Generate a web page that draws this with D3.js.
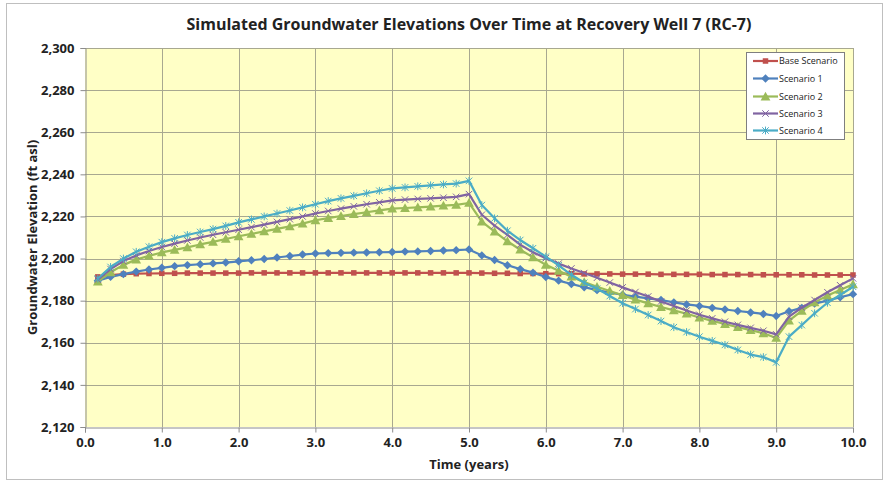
<!DOCTYPE html>
<html><head><meta charset="utf-8">
<script src="https://cdn.jsdelivr.net/npm/d3@7"></script>
<style>
body{margin:0;background:#fff;}
svg text{font-family:"Liberation Sans Narrow","Open Sans",Arial,sans-serif;}
</style></head>
<body><svg id="c" width="890" height="483"></svg>
<script>
const seriesNames = ["Base Scenario","Scenario 1","Scenario 2","Scenario 3","Scenario 4"];
const seriesColors = ["#C0504D","#4F81BD","#9BBB59","#8064A2","#4BACC6"];
const markerTypes = ["square","diamond","triangle","x","star"];
// time steps (years), every 2 months
const timeYears = [0.167,0.333,0.5,0.667,0.833,1.0,1.167,1.333,1.5,1.667,1.833,2.0,2.167,2.333,2.5,2.667,2.833,3.0,3.167,3.333,3.5,3.667,3.833,4.0,4.167,4.333,4.5,4.667,4.833,5.0,5.167,5.333,5.5,5.667,5.833,6.0,6.167,6.333,6.5,6.667,6.833,7.0,7.167,7.333,7.5,7.667,7.833,8.0,8.167,8.333,8.5,8.667,8.833,9.0,9.167,9.333,9.5,9.667,9.833,10.0];
const baseScenario = [2191.3,2192.2,2192.6,2192.8,2192.9,2193.0,2193.0,2193.1,2193.1,2193.1,
 2193.1,2193.1,2193.2,2193.2,2193.2,2193.2,2193.2,2193.2,2193.2,2193.2,
 2193.2,2193.2,2193.2,2193.2,2193.2,2193.2,2193.2,2193.2,2193.2,2193.2,
 2193.1,2193.0,2193.0,2192.9,2192.9,2192.8,2192.8,2192.8,2192.7,2192.7,
 2192.7,2192.6,2192.6,2192.6,2192.5,2192.5,2192.5,2192.5,2192.4,2192.4,
 2192.4,2192.4,2192.3,2192.3,2192.3,2192.3,2192.2,2192.2,2192.2,2192.2];
const scenario1 = [2189.5,2191.3,2192.6,2193.8,2194.8,2195.6,2196.4,2196.9,2197.3,2197.7,
 2198.1,2198.7,2199.2,2199.8,2200.5,2201.2,2201.9,2202.4,2202.6,2202.7,
 2202.8,2202.9,2203.0,2203.1,2203.3,2203.4,2203.6,2203.8,2204.0,2204.3,
 2201.5,2199.3,2196.8,2195.0,2193.3,2191.2,2189.5,2187.9,2186.4,2185.0,
 2183.8,2182.8,2181.9,2181.1,2180.3,2179.2,2178.2,2177.5,2176.6,2175.8,
 2175.1,2174.4,2173.7,2172.7,2175.0,2176.6,2178.6,2180.0,2181.6,2183.1];
const scenario2 = [2189.0,2193.5,2197.0,2199.5,2201.3,2202.9,2204.1,2205.3,2206.7,2207.9,
 2209.3,2210.6,2211.7,2212.9,2214.1,2215.3,2216.6,2218.2,2219.2,2220.2,
 2221.1,2222.0,2222.9,2223.7,2224.0,2224.3,2224.7,2225.1,2225.5,2226.4,
 2217.5,2212.8,2208.2,2204.2,2200.6,2197.0,2194.2,2191.4,2188.8,2186.6,
 2184.6,2182.6,2180.5,2178.7,2177.0,2175.4,2173.8,2172.0,2170.4,2168.9,
 2167.4,2166.0,2164.5,2162.3,2170.5,2175.2,2179.2,2182.4,2185.1,2187.8];
const scenario3 = [2190.0,2195.0,2198.8,2201.5,2203.6,2205.5,2207.1,2208.6,2210.0,2211.3,
 2212.5,2213.7,2214.9,2216.1,2217.4,2218.7,2220.0,2221.4,2222.6,2223.7,
 2224.8,2225.8,2226.7,2227.6,2228.0,2228.3,2228.6,2228.9,2229.3,2230.6,
 2220.8,2215.6,2211.2,2206.6,2203.0,2200.2,2197.6,2195.3,2193.1,2190.9,
 2188.6,2186.3,2184.1,2182.0,2179.6,2177.5,2175.3,2173.3,2171.6,2170.0,
 2168.5,2167.1,2165.7,2164.0,2172.4,2176.7,2180.3,2184.0,2187.3,2190.6];
const scenario4 = [2190.5,2196.0,2200.0,2203.2,2205.6,2207.8,2209.6,2211.2,2212.6,2214.0,
 2215.5,2217.2,2218.6,2220.0,2221.4,2222.8,2224.3,2225.8,2227.3,2228.6,
 2229.8,2231.0,2232.2,2233.3,2233.8,2234.3,2234.8,2235.2,2235.6,2236.9,
 2225.4,2219.1,2213.2,2208.8,2204.9,2200.9,2196.8,2192.3,2188.5,2185.7,
 2182.2,2178.8,2176.0,2173.2,2170.3,2167.4,2165.1,2162.9,2160.9,2159.0,
 2156.6,2154.4,2153.2,2150.7,2162.9,2168.4,2174.0,2179.0,2182.7,2186.6];
const allSeries = [baseScenario,scenario1,scenario2,scenario3,scenario4];
const xTicks = [0,1,2,3,4,5,6,7,8,9,10];
const yTicks = [2120,2140,2160,2180,2200,2220,2240,2260,2280,2300];
const titleText = "Simulated Groundwater Elevations Over Time at Recovery Well 7 (RC-7)";
const xTitle = "Time (years)";
const yTitle = "Groundwater Elevation (ft asl)";

const svg = d3.select("#c");
const L=85,R=853,T=48,B=427;
const x = d3.scaleLinear().domain([0,10]).range([L,R]);
const y = d3.scaleLinear().domain([2120,2300]).range([B,T]);

// outer border
svg.append("rect").attr("x",6.5).attr("y",3.5).attr("width",876).attr("height",476)
  .attr("fill","#fff").attr("stroke","#bfbfbf").attr("stroke-width",1);

// plot background
svg.append("rect").attr("x",L).attr("y",T).attr("width",R-L).attr("height",B-T).attr("fill","#FFFFC6");

// grid
const gridColor="#a8a890";
svg.append("g").selectAll("line").data(yTicks.slice(1)).join("line")
  .attr("x1",L).attr("x2",R).attr("y1",d=>Math.round(y(d))+0.5).attr("y2",d=>Math.round(y(d))+0.5)
  .attr("stroke",gridColor).attr("stroke-width",1);
svg.append("g").selectAll("line").data(xTicks.slice(1)).join("line")
  .attr("y1",T).attr("y2",B).attr("x1",d=>Math.round(x(d))+0.5).attr("x2",d=>Math.round(x(d))+0.5)
  .attr("stroke",gridColor).attr("stroke-width",1);

// axes
const yAxis = d3.axisLeft(y).tickValues(yTicks).tickFormat(d3.format(",")).tickSize(5).tickPadding(6);
const gy = svg.append("g").attr("transform",`translate(${L+0.5},0)`).call(yAxis);
const xAxis = d3.axisBottom(x).tickValues(xTicks).tickFormat(d3.format(".1f")).tickSize(5).tickPadding(5);
const gx = svg.append("g").attr("transform",`translate(0,${B+0.5})`).call(xAxis);
[gy,gx].forEach(g=>{
  g.selectAll("path,line").attr("stroke","#8c8c8c");
  g.selectAll("text").attr("font-size",13).attr("font-weight","bold").attr("fill","#222");
});

// lines
const line = d3.line().x((d,i)=>x(timeYears[i])).y(d=>y(d));
function drawMarker(g,type,cx,cy,color,s){
  if(type==="square"){
    g.append("rect").attr("x",cx-s/2).attr("y",cy-s/2).attr("width",s).attr("height",s).attr("fill",color);
  } else if(type==="diamond"){
    const h=s*0.7;
    g.append("path").attr("d",`M${cx},${cy-h}L${cx+h},${cy}L${cx},${cy+h}L${cx-h},${cy}Z`).attr("fill",color);
  } else if(type==="triangle"){
    const h=s*0.75;
    g.append("path").attr("d",`M${cx},${cy-h}L${cx+h},${cy+h*0.8}L${cx-h},${cy+h*0.8}Z`).attr("fill",color);
  } else if(type==="x"){
    const h=s*0.5;
    g.append("path").attr("d",`M${cx-h},${cy-h}L${cx+h},${cy+h}M${cx-h},${cy+h}L${cx+h},${cy-h}`).attr("stroke",color).attr("stroke-width",1);
  } else {
    const h=s*0.5;
    g.append("path").attr("d",`M${cx-h},${cy-h}L${cx+h},${cy+h}M${cx-h},${cy+h}L${cx+h},${cy-h}M${cx},${cy-h*1.2}L${cx},${cy+h*1.2}`).attr("stroke",color).attr("stroke-width",1);
  }
}
const markerSize=[5.5,6,6.5,6.5,6.5];
allSeries.forEach((vals,si)=>{
  const g=svg.append("g");
  g.append("path").datum(vals).attr("d",line).attr("fill","none")
    .attr("stroke",seriesColors[si]).attr("stroke-width",2.2).attr("stroke-linejoin","round");
  vals.forEach((v,i)=>drawMarker(g,markerTypes[si],x(timeYears[i]),y(v),seriesColors[si],markerSize[si]));
});

// titles
svg.append("text").attr("x",469).attr("y",30).attr("text-anchor","middle")
  .attr("font-size",16).attr("font-weight","bold").attr("fill","#222").text(titleText);
svg.append("text").attr("x",469).attr("y",469).attr("text-anchor","middle")
  .attr("font-size",13).attr("font-weight","bold").attr("fill","#222").text(xTitle);
svg.append("text").attr("transform",`translate(37,${(T+B)/2}) rotate(-90)`).attr("text-anchor","middle")
  .attr("font-size",13).attr("font-weight","bold").attr("fill","#222").text(yTitle);

// legend
const lg = svg.append("g");
lg.append("rect").attr("x",746.5).attr("y",52.5).attr("width",98).attr("height",87)
  .attr("fill","#fff").attr("stroke","#7f7f7f").attr("stroke-width",1);
const rowY=[61,78.5,96.5,113.5,130.5];
seriesNames.forEach((n,i)=>{
  lg.append("line").attr("x1",753).attr("x2",778).attr("y1",rowY[i]).attr("y2",rowY[i])
    .attr("stroke",seriesColors[i]).attr("stroke-width",2.2);
  drawMarker(lg,markerTypes[i],765.5,rowY[i],seriesColors[i],markerSize[i]);
  lg.append("text").attr("x",779).attr("y",rowY[i]+3.2).attr("font-size",9).attr("fill","#222").text(n);
});
</script></body></html>
